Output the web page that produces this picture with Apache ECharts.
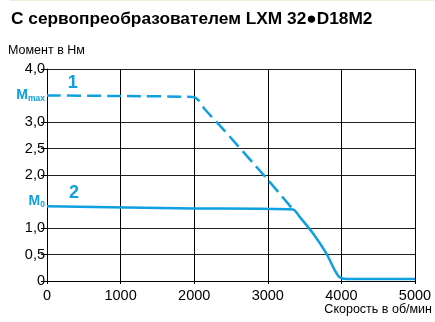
<!DOCTYPE html>
<html><head><meta charset="utf-8">
<script src="https://cdn.jsdelivr.net/npm/echarts@6/dist/echarts.min.js"></script>
<style>html,body{margin:0;padding:0;background:#fff}#c{width:435px;height:322px}</style>
</head><body><div id="c"></div>
<script>
const titleText = 'С сервопреобразователем LXM 32●D18M2';
const yName = 'Момент в Нм';
const xName = 'Скорость в об/мин';
const speed1 = [0, 1000, 1985, 2060, 2144, 2325, 3000, 3342];
const torque1 = [3.5, 3.49, 3.47, 3.41, 3.24, 2.97, 1.91, 1.35];
const speed2 = [0, 2000, 3342, 3433, 3613, 3795, 3908, 3976, 4066, 5000];
const torque2 = [1.41, 1.37, 1.35, 1.21, 0.90, 0.52, 0.21, 0.07, 0.04, 0.04];
const xTicks = [0, 1000, 2000, 3000, 4000, 5000];
const yTickValues = [0, 0.5, 1, 2, 2.5, 3, 4];
const yTickLabels = {0:'0', 0.5:'0,5', 1:'1,0', 1.5:'{m|M}{s|0}', 2:'2,0', 2.5:'2,5', 3:'3,0', 3.5:'{m|M}{s|max}', 4:'4,0'};
const curveNames = ['1', '2'];
const labelPos = [[350, 3.74], [366, 1.66]];

const blue = '#0ea0e0';
const font = 'Liberation Sans';
const chart = echarts.init(document.getElementById('c'), null, {renderer: 'canvas'});
chart.setOption({
  animation: false,
  title: {text: titleText, left: 6, top: 6, textStyle: {fontFamily: font, fontSize: 17.3, fontWeight: 'bold', color: '#000'}},
  graphic: [
    {type: 'rect', shape: {x: 10, y: 0, width: 425, height: 1}, style: {fill: '#eeeedd'}},
    {type: 'text', left: 8, top: 44, style: {text: yName, font: '12.5px "Liberation Sans"', fill: '#000'}}
  ],
  grid: {left: 47, right: 19, top: 69, bottom: 41},
  xAxis: {
    type: 'value', min: 0, max: 5000, interval: 1000,
    name: xName, nameLocation: 'end', nameGap: 0,
    nameTextStyle: {fontFamily: font, fontSize: 12.5, color: '#000', align: 'right', verticalAlign: 'top', padding: [22, -17, 0, 0]},
    axisLine: {lineStyle: {color: '#000', width: 1}},
    axisTick: {show: true, length: 3, lineStyle: {color: '#000'}},
    axisLabel: {fontFamily: font, fontSize: 14.5, color: '#000', margin: 7, formatter: v => String(v)},
    splitLine: {show: true, lineStyle: {color: '#000', width: 1}}
  },
  yAxis: {
    type: 'value', min: 0, max: 4, interval: 0.5,
    axisLine: {show: true, lineStyle: {color: '#000', width: 1}},
    axisTick: {show: true, length: 6, customValues: yTickValues, lineStyle: {color: '#000'}},
    axisLabel: {fontFamily: font, fontSize: 14.5, color: '#000', margin: 2,
      formatter: v => yTickLabels[v],
      rich: {m: {fontFamily: font, fontSize: 14, fontWeight: 'bold', color: blue},
             s: {fontFamily: font, fontSize: 8.5, fontWeight: 'bold', color: blue, verticalAlign: 'bottom', padding: [7, 0, 0, 0]}}},
    splitLine: {show: true, lineStyle: {color: '#222', width: 1}}
  },
  series: [
    {type: 'line', data: speed1.map((s, i) => [s, torque1[i]]), showSymbol: false, smooth: 0.25,
     lineStyle: {color: blue, width: 2.5, type: [14, 6]},
     markPoint: {symbol: 'circle', symbolSize: 0, data: [{coord: labelPos[0], value: curveNames[0]}],
       label: {show: true, formatter: curveNames[0], fontFamily: font, fontSize: 18, fontWeight: 'bold', color: blue}}},
    {type: 'line', data: speed2.map((s, i) => [s, torque2[i]]), showSymbol: false, smooth: 0.25,
     lineStyle: {color: blue, width: 2.5},
     markPoint: {symbol: 'circle', symbolSize: 0, data: [{coord: labelPos[1], value: curveNames[1]}],
       label: {show: true, formatter: curveNames[1], fontFamily: font, fontSize: 18, fontWeight: 'bold', color: blue, backgroundColor: '#fff', padding: [0, 4, 0, 4]}}}
  ]
});
</script></body></html>
